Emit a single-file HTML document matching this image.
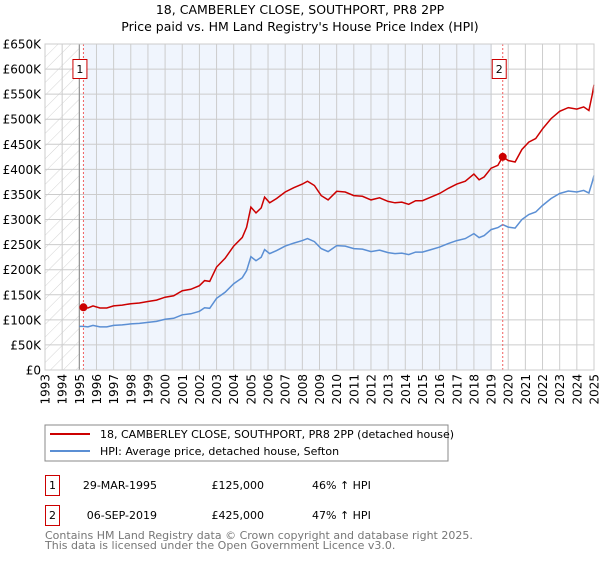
<!DOCTYPE html>
<html><head><meta charset="utf-8"><style>
body{margin:0;background:#fff;font-family:"DejaVu Sans","Liberation Sans",sans-serif;}
svg text{font-family:"DejaVu Sans","Liberation Sans",sans-serif;}
</style></head><body>
<svg id="c" width="600" height="560" xmlns="http://www.w3.org/2000/svg">
<defs><pattern id="hatch" width="9" height="9" patternUnits="userSpaceOnUse" patternTransform="rotate(45)"><line x1="0" y1="0" x2="0" y2="9" stroke="#d4d4d4" stroke-width="1"/></pattern></defs>
<text x="300" y="14" text-anchor="middle" font-size="12.5" fill="#000">18, CAMBERLEY CLOSE, SOUTHPORT, PR8 2PP</text>
<text x="300" y="31" text-anchor="middle" font-size="12.5" fill="#000">Price paid vs. HM Land Registry's House Price Index (HPI)</text>
<g id="plot"></g>
<rect x="45" y="425" width="403" height="36" fill="#fff" stroke="#888"/>
<line x1="50" y1="434" x2="90" y2="434" stroke="#cc0000" stroke-width="2"/>
<text x="100" y="438" font-size="11">18, CAMBERLEY CLOSE, SOUTHPORT, PR8 2PP (detached house)</text>
<line x1="50" y1="451" x2="90" y2="451" stroke="#5b8fd4" stroke-width="2"/>
<text x="100" y="455" font-size="11">HPI: Average price, detached house, Sefton</text>
<g font-size="11">
<rect x="45.5" y="475.5" width="14" height="20" fill="#fff" stroke="#cc0000"/>
<text x="52.5" y="489" text-anchor="middle">1</text>
<text x="157" y="489" text-anchor="end">29-MAR-1995</text>
<text x="264" y="489" text-anchor="end">£125,000</text>
<text x="312" y="489">46% ↑ HPI</text>
<rect x="45.5" y="505.5" width="14" height="20" fill="#fff" stroke="#cc0000"/>
<text x="52.5" y="519" text-anchor="middle">2</text>
<text x="157" y="519" text-anchor="end">06-SEP-2019</text>
<text x="264" y="519" text-anchor="end">£425,000</text>
<text x="312" y="519">47% ↑ HPI</text>
</g>
<text x="45" y="539" font-size="11" fill="#777">Contains HM Land Registry data © Crown copyright and database right 2025.</text>
<text x="45" y="549" font-size="11" fill="#777">This data is licensed under the Open Government Licence v3.0.</text>
</svg>
<script>
const years=[1995.0,1995.25,1995.5,1995.8,1996.2,1996.6,1997.0,1997.5,1998.0,1998.5,1999.0,1999.5,2000.0,2000.5,2001.0,2001.5,2002.0,2002.3,2002.6,2003.0,2003.5,2004.0,2004.5,2004.75,2005.0,2005.3,2005.6,2005.8,2006.1,2006.5,2007.0,2007.5,2008.0,2008.3,2008.7,2009.1,2009.5,2010.0,2010.5,2011.0,2011.5,2012.0,2012.5,2013.0,2013.4,2013.8,2014.2,2014.6,2015.0,2015.5,2016.0,2016.5,2017.0,2017.5,2018.0,2018.3,2018.6,2019.0,2019.4,2019.68,2020.0,2020.4,2020.8,2021.2,2021.6,2022.0,2022.5,2023.0,2023.5,2024.0,2024.4,2024.7,2024.9,2025.0];
const hpi=[87,87,86,89,86,86,89,90,92,93,95,97,101,103,110,112,117,124,123,143,155,172,184,198,226,218,225,240,232,238,247,253,258,262,256,242,236,248,247,242,241,236,239,234,232,233,230,235,235,240,245,252,258,262,272,264,268,280,284,290,285,283,300,310,315,328,342,352,357,355,358,353,375,388];
const sales=[[1995.24,125000],[2019.68,425000]];
const L=45,R=594,T=44,B=370;
const X=y=>L+(y-1993)/(2025-1993)*(R-L);
const Y=v=>B-v/650*(B-T);
const ns="http://www.w3.org/2000/svg",g=document.getElementById('plot');
function mk(t,a,p){const e=document.createElementNS(ns,t);for(const k in a)e.setAttribute(k,a[k]);(p||g).appendChild(e);return e;}
let e;
e=mk('rect',{x:L,y:T,width:R-L,height:B-T,fill:'#fff'});


e=mk('rect',{x:L,y:T,width:X(1995)-L,height:B-T,fill:'url(#hatch)'});


e=mk('rect',{x:X(sales[0][0]),y:T,width:X(2019.05)-X(sales[0][0]),height:B-T,fill:'#f0f5fd'});


for(let yr=1993;yr<=2025;yr++){
 e=mk('line',{x1:X(yr),x2:X(yr),y1:T,y2:B,stroke:'#ccc','stroke-width':1});
 
 
 e=mk('text',{x:0,y:0,'font-size':12,'text-anchor':'end',transform:`translate(${X(yr)+4.5},${B+4}) rotate(-90)`});
 e.textContent=yr;
 
 
}
for(let v=0;v<=650;v+=50){
 e=mk('line',{x1:L,x2:R,y1:Y(v),y2:Y(v),stroke:'#ccc','stroke-width':1});
 
 
 e=mk('text',{x:L-4,y:Y(v)+4.5,'font-size':12,'text-anchor':'end'});
 e.textContent=v==0?'£0':'£'+v+'K';
 
 
}
e=mk('line',{x1:X(1995),x2:X(1995),y1:T,y2:B,stroke:'#888','stroke-width':1});


function interp(t){for(let i=1;i<years.length;i++){if(t<=years[i]){const f=(t-years[i-1])/(years[i]-years[i-1]);return hpi[i-1]+f*(hpi[i]-hpi[i-1]);}}return hpi[hpi.length-1];}
const f1=sales[0][1]/1000/interp(sales[0][0]),f2=sales[1][1]/1000/interp(sales[1][0]);
let bp='',rp='';
const ry=[sales[0][0]].concat(years.filter(y=>y>sales[0][0]));
years.forEach((y,i)=>{bp+=(i?'L':'M')+X(y).toFixed(1)+','+Y(hpi[i]).toFixed(1);});
ry.forEach((y,i)=>{const v=interp(y)*(y<sales[1][0]?f1:f2);rp+=(i?'L':'M')+X(y).toFixed(1)+','+Y(v).toFixed(1);});
e=mk('path',{d:bp,fill:'none',stroke:'#5b8fd4','stroke-width':1.5});


e=mk('path',{d:rp,fill:'none',stroke:'#cc0000','stroke-width':1.5});


sales.forEach((s,i)=>{
 e=mk('line',{x1:X(s[0]),x2:X(s[0]),y1:T,y2:B,stroke:'#f06060','stroke-width':1,'stroke-dasharray':'2,2'});
 
 
 e=mk('circle',{cx:X(s[0]),cy:Y(s[1]/1000),r:4,fill:'#cc0000'});
 
 
 e=mk('rect',{x:X(s[0])-10.5,y:59.5,width:14,height:19,fill:'#fff',stroke:'#cc0000'});
 
 
 e=mk('text',{x:X(s[0])-3.5,y:73,'font-size':11,'text-anchor':'middle'});
 e.textContent=i+1;
 
 
});
e=mk('rect',{x:L,y:T,width:R-L,height:B-T,fill:'none',stroke:'#ccc'});


</script>
</body></html>
